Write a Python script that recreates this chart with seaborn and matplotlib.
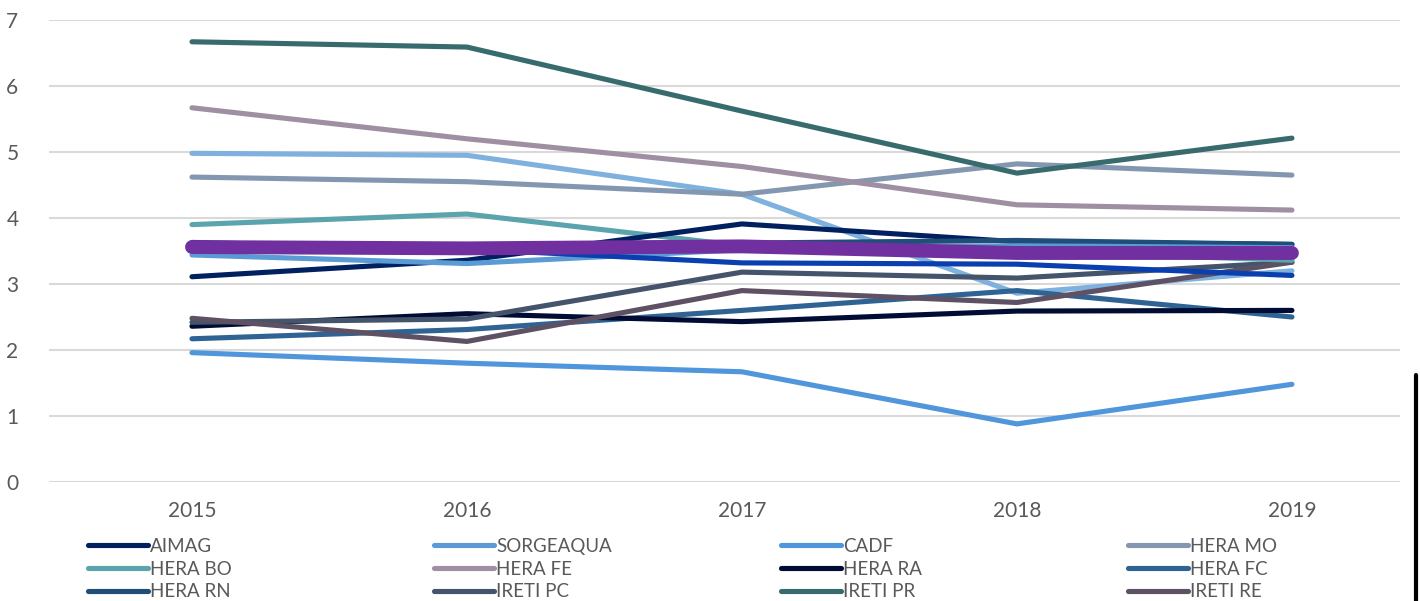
import matplotlib
matplotlib.use("Agg")
import matplotlib.pyplot as plt
import seaborn as sns
import pandas as pd
from matplotlib.lines import Line2D

years = ["2015", "2016", "2017", "2018", "2019"]

AIMAG = [3.11, 3.36, 3.91, 3.64, 3.60]
SORGEAQUA = [3.44, 3.31, 3.52, 3.58, 3.55]
CADF = [1.96, 1.80, 1.67, 0.88, 1.48]
HERA_MO = [4.62, 4.55, 4.36, 4.82, 4.65]
HERA_BO = [3.90, 4.06, 3.58, 3.50, 3.36]
HERA_FE = [5.67, 5.20, 4.78, 4.20, 4.12]
HERA_RA = [2.36, 2.55, 2.43, 2.59, 2.60]
HERA_FC = [2.17, 2.31, 2.60, 2.90, 2.50]
HERA_RN = [3.60, 3.57, 3.62, 3.66, 3.60]
IRETI_PC = [2.42, 2.47, 3.18, 3.09, 3.33]
IRETI_PR = [6.67, 6.59, 5.62, 4.68, 5.21]
IRETI_RE = [2.48, 2.13, 2.90, 2.72, 3.33]
EXTRA_LIGHT = [4.98, 4.95, 4.36, 2.86, 3.20]
EXTRA_ROYAL = [3.63, 3.53, 3.32, 3.30, 3.13]
MEDIA = [3.56, 3.54, 3.57, 3.47, 3.47]

legend_names = ["AIMAG", "SORGEAQUA", "CADF", "HERA MO",
                "HERA BO", "HERA FE", "HERA RA", "HERA FC",
                "HERA RN", "IRETI PC", "IRETI PR", "IRETI RE"]

series = [
    ("EXTRA_LIGHT", EXTRA_LIGHT, "#7fb1de", None),
    ("HERA MO", HERA_MO, "#8497b0", "HERA MO"),
    ("HERA FE", HERA_FE, "#9e8fa2", "HERA FE"),
    ("IRETI PR", IRETI_PR, "#376b6d", "IRETI PR"),
    ("CADF", CADF, "#4f96dc", "CADF"),
    ("HERA FC", HERA_FC, "#2e6394", "HERA FC"),
    ("HERA RA", HERA_RA, "#000c33", "HERA RA"),
    ("IRETI PC", IRETI_PC, "#44546a", "IRETI PC"),
    ("IRETI RE", IRETI_RE, "#5e5163", "IRETI RE"),
    ("HERA BO", HERA_BO, "#5ba4ad", "HERA BO"),
    ("AIMAG", AIMAG, "#002060", "AIMAG"),
    ("HERA RN", HERA_RN, "#1f4e79", "HERA RN"),
    ("SORGEAQUA", SORGEAQUA, "#5b9bd5", "SORGEAQUA"),
    ("EXTRA_ROYAL", EXTRA_ROYAL, "#0a3faf", None),
]

sns.set_theme(style="white")
plt.rcParams["font.family"] = ["Lato", "DejaVu Sans"]

W, H = 1420, 601
fig = plt.figure(figsize=(W / 100, H / 100), dpi=100)
ax = fig.add_axes([49 / W, 119 / H, (1400 - 49) / W, 462 / H])

xpos = list(range(len(years)))
handles = {}
for key, vals, col, lab in series:
    df = pd.DataFrame({"x": xpos, "y": vals})
    sns.lineplot(data=df, x="x", y="y", ax=ax, color=col, linewidth=3.7,
                 solid_capstyle="round", solid_joinstyle="round", legend=False)
    if lab:
        handles[lab] = Line2D([0], [0], color=col, linewidth=3.7, solid_capstyle="round")

df = pd.DataFrame({"x": xpos, "y": MEDIA})
sns.lineplot(data=df, x="x", y="y", ax=ax, color="#7030a0", linewidth=10,
             solid_capstyle="round", solid_joinstyle="round", legend=False)

ax.set_xlim(-0.52, 4.393)
ax.set_ylim(0, 7)
ax.set_yticks(range(0, 8))
ax.set_yticklabels([str(v) for v in range(0, 8)])
ax.set_xticks(xpos)
ax.set_xticklabels(years)
ax.set_xlabel("")
ax.set_ylabel("")
ax.grid(axis="y", color="#d9d9d9", linewidth=1.5)
ax.set_axisbelow(True)
for s in ax.spines.values():
    s.set_visible(False)
ax.tick_params(axis="y", length=0, pad=22, labelsize=15, labelcolor="#595959")
ax.tick_params(axis="x", length=0, pad=14, labelsize=15, labelcolor="#595959")

col_x = [88, 434, 781, 1128]
for c in range(4):
    labs = [legend_names[c + 4 * r] for r in range(3)]
    leg = fig.legend([handles[l] for l in labs], labs, loc="upper left",
                     bbox_to_anchor=(col_x[c] / W, 1 - 538 / H), frameon=False,
                     fontsize=13.5, handlelength=3.2, handletextpad=0.1,
                     borderpad=0, borderaxespad=0, labelspacing=0.3,
                     labelcolor="#595959")

fig.add_artist(Line2D([1416 / W, 1416 / W], [0, 1 - 375 / H], color="black",
                      linewidth=3, transform=fig.transFigure))

fig.savefig("out.png", dpi=100)
